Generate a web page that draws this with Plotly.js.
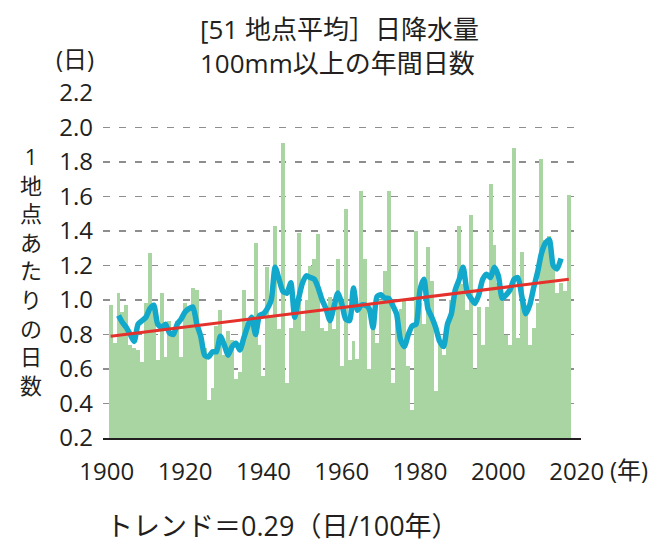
<!DOCTYPE html>
<html>
<head>
<meta charset="utf-8">
<script src="https://cdn.plot.ly/plotly-3.0.1.min.js"></script>
<style>html,body{margin:0;padding:0;background:#fff;}#chart{width:660px;height:546px;}</style>
</head>
<body>
<div id="chart"></div>
<script>
// ---- data ----
const years = [];
for (let y = 1901; y <= 2018; y++) years.push(y);

const annualDays = [
  0.97, 0.75, 1.04, 0.93, 0.97, 0.74, 0.72, 0.71, 0.64, 0.98,   // 1901-1910
  1.27, 0.96, 0.65, 1.04, 0.67, 0.88, 0.82, 0.88, 0.67, 0.98,   // 1911-1920
  0.95, 1.07, 1.06, 0.78, 0.72, 0.42, 0.49, 0.85, 0.94, 0.68,   // 1921-1930
  0.82, 0.77, 0.54, 0.58, 1.06, 0.85, 0.85, 1.33, 0.74, 0.56,   // 1931-1940
  1.19, 0.90, 1.43, 0.83, 1.91, 0.52, 0.84, 0.95, 1.39, 0.82,   // 1941-1950
  1.00, 1.20, 1.24, 1.38, 0.84, 0.82, 1.02, 0.83, 1.24, 0.62,   // 1951-1960
  1.53, 0.65, 0.76, 0.66, 1.63, 1.24, 0.60, 0.86, 0.75, 1.00,   // 1961-1970
  1.17, 1.63, 0.52, 0.92, 0.95, 1.00, 0.62, 0.36, 1.40, 0.98,   // 1971-1980
  0.86, 1.31, 1.11, 0.47, 0.75, 0.68, 0.82, 1.00, 1.05, 1.43,   // 1981-1990
  1.09, 0.94, 1.49, 0.60, 0.96, 0.74, 0.96, 1.67, 1.32, 1.10,   // 1991-2000
  1.02, 0.80, 0.74, 1.88, 0.78, 1.28, 0.94, 0.74, 0.84, 0.98,   // 2001-2010
  1.82, 1.35, 1.37, 1.19, 1.04, 1.10, 1.05, 1.61                // 2011-2018
];

const maYears = [];
for (let y = 1903; y <= 2016; y++) maYears.push(y);
const movingAvg = [
  0.91, 0.87, 0.84, 0.80, 0.76, 0.86, 0.88, 0.90,               // 1903-1910
  0.95, 0.97, 0.86, 0.84, 0.86, 0.81, 0.80, 0.86, 0.89, 0.93,   // 1911-1920
  0.95, 0.96, 0.86, 0.79, 0.68, 0.67, 0.70, 0.70, 0.79, 0.74,   // 1921-1930
  0.68, 0.73, 0.75, 0.71, 0.78, 0.85, 0.90, 0.80, 0.91, 0.92,   // 1931-1940
  0.95, 1.00, 1.19, 1.12, 1.05, 1.04, 1.10, 0.90, 1.01, 1.10,   // 1941-1950
  1.14, 1.13, 1.12, 1.07, 1.00, 0.95, 0.88, 0.96, 1.04, 0.98,   // 1951-1960
  0.89, 0.88, 1.07, 0.94, 0.97, 0.97, 0.95, 0.84, 1.02, 1.03,   // 1961-1970
  1.01, 1.01, 0.97, 0.92, 0.77, 0.73, 0.80, 0.85, 0.86, 1.06,   // 1971-1980
  1.12, 0.95, 0.90, 0.84, 0.76, 0.73, 0.86, 0.92, 1.06, 1.12,   // 1981-1990
  1.19, 1.05, 1.01, 0.98, 1.03, 1.12, 1.15, 1.13, 1.19, 1.14,   // 1991-2000
  1.01, 1.03, 1.06, 1.12, 1.13, 1.02, 0.92, 0.97, 1.07, 1.16,   // 2001-2010
  1.27, 1.33, 1.35, 1.20, 1.18, 1.24                            // 2011-2016
];

const trendYears = [1901, 2018];
const trendValues = [0.79, 1.12];

const xTickVals = [1900, 1920, 1940, 1960, 1980, 2000, 2020];
const xTickText = ['1900', '1920', '1940', '1960', '1980', '2000', '2020'];
const yTickVals = [0.2, 0.4, 0.6, 0.8, 1.0, 1.2, 1.4, 1.6, 1.8, 2.0, 2.2];
const yTickText = ['0.2', '0.4', '0.6', '0.8', '1.0', '1.2', '1.4', '1.6', '1.8', '2.0', '2.2'];

const titleLines = ['[51 地点平均］日降水量', '100mm以上の年間日数'];
const unitLabel = '(日)';
const yTitleChars = ['1', '地', '点', 'あ', 'た', 'り', 'の', '日', '数'];
const xUnitLabel = '(年)';
const trendLabel = 'トレンド＝0.29（日/100年）';

// ---- layout helpers ----
const W = 660, H = 546;
const M = {l: 103, r: 79, t: 93, b: 108};
const PW = W - M.l - M.r, PH = H - M.t - M.b;
const px = x => (x - M.l) / PW;
const py = y => (H - M.b - y) / PH;
const FONT = '"Open Sans", "Noto Sans CJK JP", sans-serif';
const TXT = '#231f20';

const annotations = [
  {text: titleLines.join('<br>'), x: px(198), y: py(46), xanchor: 'left', yanchor: 'middle', size: 26, align: 'left'},
  {text: unitLabel, x: px(75), y: py(58), xanchor: 'center', yanchor: 'middle', size: 24},
  {text: xUnitLabel, x: px(629), y: py(469), xanchor: 'center', yanchor: 'middle', size: 24},
  {text: trendLabel, x: px(104), y: py(525), xanchor: 'left', yanchor: 'middle', size: 27},
  {text: yTitleChars.join('<br>'), x: px(31), y: py(270), xanchor: 'center', yanchor: 'middle', size: 22}
].map(a => ({
  text: a.text, x: a.x, y: a.y, xref: 'paper', yref: 'paper',
  xanchor: a.xanchor, yanchor: a.yanchor, showarrow: false, align: a.align || 'center',
  font: {family: FONT, size: a.size, color: TXT}
}));

const traces = [
  {
    type: 'bar', x: years, y: annualDays, width: 1,
    marker: {color: '#a8d5a1', line: {width: 0}},
    hoverinfo: 'skip'
  },
  {
    type: 'scatter', mode: 'lines', x: maYears, y: movingAvg,
    line: {color: '#12a8cc', width: 5.5, shape: 'spline', smoothing: 0.6},
    hoverinfo: 'skip'
  },
  {
    type: 'scatter', mode: 'lines', x: trendYears, y: trendValues,
    line: {color: '#e5312b', width: 3},
    hoverinfo: 'skip'
  }
];

const layout = {
  width: W, height: H,
  margin: M,
  paper_bgcolor: '#ffffff', plot_bgcolor: '#ffffff',
  showlegend: false,
  bargap: 0,
  font: {family: FONT, color: TXT},
  xaxis: {
    range: [1899.04, 2021.1],
    tickvals: xTickVals, ticktext: xTickText,
    showgrid: false, zeroline: false,
    showline: true, linecolor: '#231f20', linewidth: 1.5,
    ticks: '', ticklabelstandoff: 12,
    tickfont: {family: FONT, size: 24, color: TXT}
  },
  yaxis: {
    range: [0.2, 2.2],
    tickvals: yTickVals, ticktext: yTickText,
    showgrid: true, gridcolor: '#8e8e8e', gridwidth: 1.4, griddash: '7px,9px',
    zeroline: false, showline: false,
    ticks: '', ticklabelstandoff: 9,
    tickfont: {family: FONT, size: 24, color: TXT}
  },
  annotations: annotations
};

Plotly.newPlot('chart', traces, layout, {staticPlot: true, displayModeBar: false});
</script>
</body>
</html>
